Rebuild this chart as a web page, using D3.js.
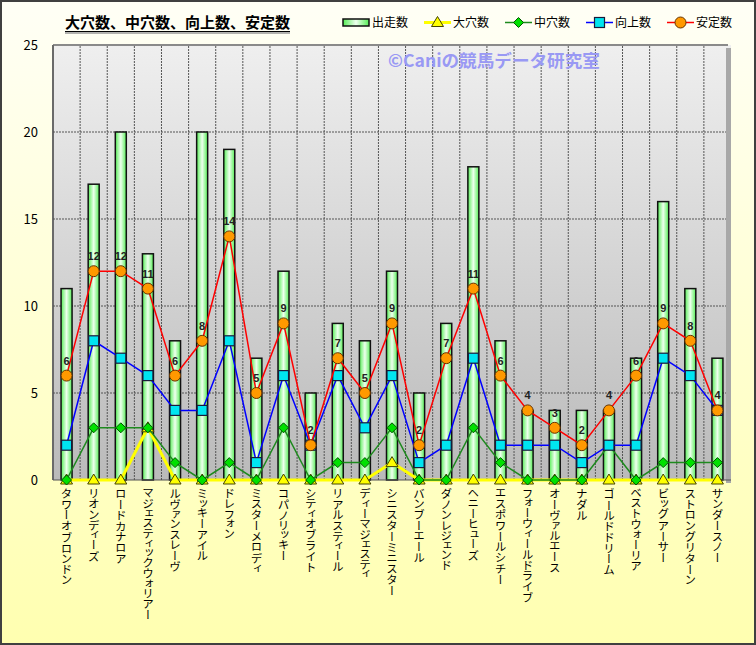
<!DOCTYPE html>
<html><head><meta charset="utf-8">
<script src="https://cdn.jsdelivr.net/npm/d3@7"></script>
<style>
html,body{margin:0;padding:0;background:#fff;}
svg{display:block;}
.xl text{font-family:"Noto Sans CJK JP",sans-serif;font-size:11.5px;writing-mode:vertical-rl;font-feature-settings:"vpal";}
</style></head>
<body><svg id="c" width="756" height="645"></svg>
<script>
const categories = ["タワーオブロンドン","リオンディーズ","ロードカナロア","マジェスティックウォリアー","ルヴァンスレーヴ","ミッキーアイル","ドレフォン","ミスターメロディ","コパノリッキー","シティオブライト","リアルスティール","ディーマジェスティ","シニスターミニスター","バンブーエール","ダノンレジェンド","ヘニーヒューズ","エスポワールシチー","フォーウィールドライブ","オーヴァルエース","ナダル","ゴールドドリーム","ベストウォーリア","ビッグアーサー","ストロングリターン","サンダースノー"];
const starts   = [11,17,20,13,8,20,19,7,12,5,9,8,12,5,9,18,8,4,4,4,4,7,16,11,7];
const oana     = [0,0,0,3,0,0,0,0,0,0,0,0,1,0,0,0,0,0,0,0,0,0,0,0,0];
const chuana   = [0,3,3,3,1,0,1,0,3,0,1,1,3,0,0,3,1,0,0,0,2,0,1,1,1];
const kojo     = [2,8,7,6,4,4,8,1,6,2,6,3,6,1,2,7,2,2,2,1,2,2,7,6,4];
const antei    = [6,12,12,11,6,8,14,5,9,2,7,5,9,2,7,11,6,4,3,2,4,6,9,8,4];
const yTicks   = [0,5,10,15,20,25];
const seriesNames = ["出走数","大穴数","中穴数","向上数","安定数"];
const titleText = "大穴数、中穴数、向上数、安定数";
const watermark = "©Caniの競馬データ研究室";

const svg = d3.select("#c");
const defs = svg.append("defs");
const bg = defs.append("linearGradient").attr("id","bg").attr("x1",0).attr("y1",0).attr("x2",0).attr("y2",1);
bg.append("stop").attr("offset","0").attr("stop-color","#FFFFF6");
bg.append("stop").attr("offset","1").attr("stop-color","#FFFFB0");
const pg = defs.append("linearGradient").attr("id","pg").attr("x1",0).attr("y1",0).attr("x2",0).attr("y2",1);
pg.append("stop").attr("offset","0").attr("stop-color","#EFEFEF");
pg.append("stop").attr("offset","1").attr("stop-color","#BABABA");
const bgG = defs.append("linearGradient").attr("id","barg").attr("x1",0).attr("y1",0).attr("x2",1).attr("y2",0);
bgG.append("stop").attr("offset","0").attr("stop-color","#55EE55");
bgG.append("stop").attr("offset","0.5").attr("stop-color","#EEFFEE");
bgG.append("stop").attr("offset","1").attr("stop-color","#55EE55");

svg.append("rect").attr("x",1).attr("y",1).attr("width",754).attr("height",643)
  .attr("fill","url(#bg)").attr("stroke","#404040").attr("stroke-width",2);

const L=53, R=731, T=45, B=480;
const x = d3.scaleBand().domain(categories).range([L,R]).paddingInner(0).paddingOuter(0);
const y = d3.scaleLinear().domain([0,25]).range([B,T]);
const cx = d => x(d) + x.bandwidth()/2;

// plot area
svg.append("rect").attr("x",L).attr("y",T).attr("width",R-L).attr("height",B-T).attr("fill","url(#pg)");
svg.append("rect").attr("x",R-5).attr("y",T+3).attr("width",5).attr("height",B-T).attr("fill","#A8A8A8");
svg.append("line").attr("x1",L).attr("x2",R-3).attr("y1",T).attr("y2",T).attr("stroke","#8A8A8A").attr("stroke-width",2);
svg.append("line").attr("x1",L).attr("x2",L).attr("y1",T).attr("y2",B).attr("stroke","#6A6A6A").attr("stroke-width",2);

// gridlines
const grid = svg.append("g");
yTicks.filter(t=>t>0&&t<25).forEach(t=>{
  grid.append("line").attr("x1",L).attr("x2",R-5).attr("y1",y(t)).attr("y2",y(t))
    .attr("stroke","#555").attr("stroke-width",1).attr("stroke-dasharray","2,1");
});
categories.slice(1).forEach(c=>{
  grid.append("line").attr("x1",x(c)).attr("x2",x(c)).attr("y1",T+1).attr("y2",B)
    .attr("stroke","#555").attr("stroke-width",1).attr("stroke-dasharray","2,1");
});

// y axis
const ya = svg.append("g").attr("transform",`translate(${L},0)`)
  .call(d3.axisLeft(y).tickValues(yTicks).tickSize(0).tickPadding(15));
ya.select(".domain").remove();
ya.selectAll("text").attr("font-family","'Noto Sans CJK JP',sans-serif").attr("font-size",13).attr("fill","#000");

// bars
const bw = 11;
svg.append("g").selectAll("rect").data(categories).join("rect")
  .attr("x",(d)=>cx(d)-bw/2).attr("width",bw)
  .attr("y",(d,i)=>y(starts[i])).attr("height",(d,i)=>B-y(starts[i]))
  .attr("fill","url(#barg)").attr("stroke","#111").attr("stroke-width",1.5);

// baseline
svg.append("line").attr("x1",L).attr("x2",R).attr("y1",B).attr("y2",B).attr("stroke","#555").attr("stroke-width",1);

const line = d3.line().x((d,i)=>cx(categories[i])).y(d=>y(d));
function drawSeries(vals,color,width,marker){
  svg.append("path").datum(vals).attr("d",line).attr("fill","none").attr("stroke",color).attr("stroke-width",width);
  const g = svg.append("g");
  vals.forEach((v,i)=>marker(g,cx(categories[i]),y(v)));
}
const tri = (g,px,py)=>g.append("path").attr("d",`M${px},${py-6}L${px+6},${py+4}L${px-6},${py+4}Z`).attr("fill","#FFFF00").attr("stroke","#444400").attr("stroke-width",1);
const dia = (g,px,py)=>g.append("path").attr("d",`M${px},${py-5}L${px+5},${py}L${px},${py+5}L${px-5},${py}Z`).attr("fill","#00E000").attr("stroke","#005500").attr("stroke-width",1);
const sq  = (g,px,py)=>g.append("rect").attr("x",px-5).attr("y",py-5).attr("width",10).attr("height",10).attr("fill","#00E5F0").attr("stroke","#1A1A3A").attr("stroke-width",1.2);
const cir = (g,px,py)=>g.append("circle").attr("cx",px).attr("cy",py).attr("r",5.5).attr("fill","#FF9900").attr("stroke","#663300").attr("stroke-width",1);

drawSeries(oana,"#FFFF00",3,tri);
drawSeries(chuana,"#1E8A1E",1.5,dia);
drawSeries(kojo,"#0000FF",1.5,sq);
drawSeries(antei,"#FF0000",1.5,cir);

// data labels
svg.append("g").selectAll("text").data(antei).join("text")
  .attr("x",(d,i)=>cx(categories[i])).attr("y",d=>y(d)-11)
  .attr("text-anchor","middle").attr("font-family","'Liberation Sans',Arial,sans-serif")
  .attr("font-size",11).attr("font-weight","bold").attr("fill","#222").text(d=>d);

// x axis labels
const xa = svg.append("g").attr("class","xl").attr("transform",`translate(0,${B})`)
  .call(d3.axisBottom(x).tickSize(0));
xa.select(".domain").remove();
xa.selectAll("text").attr("dy",null).attr("y",8).attr("text-anchor","start").attr("fill","#000");

// watermark
svg.append("text").attr("x",388).attr("y",67).attr("font-family","'Noto Sans CJK JP',sans-serif")
  .attr("font-size",17.6).attr("font-weight","bold").attr("fill","#9999F4").text(watermark);

// title
svg.append("text").attr("x",65).attr("y",28).attr("font-family","'Noto Sans CJK JP',sans-serif")
  .attr("font-size",15).attr("font-weight","bold").attr("fill","#000").text(titleText);
svg.append("line").attr("x1",65).attr("x2",290).attr("y1",31.5).attr("y2",31.5).attr("stroke","#000").attr("stroke-width",1);
svg.append("line").attr("x1",65).attr("x2",290).attr("y1",33).attr("y2",33).attr("stroke","#999").attr("stroke-width",1.5);

// legend
const lg = svg.append("g").attr("font-family","'Noto Sans CJK JP',sans-serif").attr("font-size",12);
const lx = [343,424,505,586,667];
lg.append("rect").attr("x",lx[0]).attr("y",19).attr("width",26).attr("height",7).attr("fill","url(#barg)").attr("stroke","#111").attr("stroke-width",1.5);
const lcol = [null,"#FFFF00","#1E8A1E","#0000FF","#FF0000"];
const lmk = [null,tri,dia,sq,cir];
for(let k=1;k<5;k++){
  lg.append("line").attr("x1",lx[k]).attr("x2",lx[k]+27).attr("y1",22.5).attr("y2",22.5).attr("stroke",lcol[k]).attr("stroke-width",k==1?3:1.5);
  lmk[k](lg,lx[k]+13.5,22.5);
}
seriesNames.forEach((s,k)=>{
  lg.append("text").attr("x",lx[k]+29).attr("y",27).attr("fill","#000").text(s);
});
</script></body></html>
